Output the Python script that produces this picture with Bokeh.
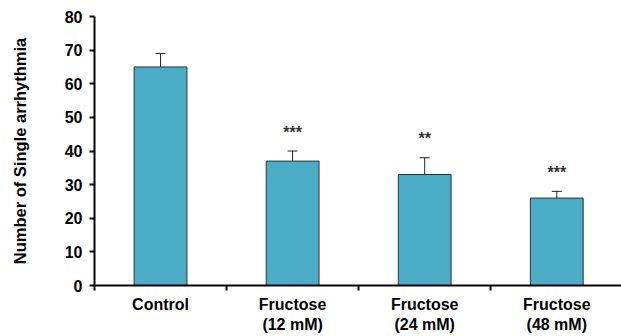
from bokeh.plotting import figure
from bokeh.models import Range1d, FixedTicker, ColumnDataSource
from bokeh.core.properties import value
from bokeh.embed import file_html
from bokeh.resources import INLINE

categories = ["Control", "Fructose\n(12 mM)", "Fructose\n(24 mM)", "Fructose\n(48 mM)"]
means = [65, 37, 33, 26]
errors = [4, 3, 5, 2]
stars = ["", "***", "**", "***"]
y_ticks = [0, 10, 20, 30, 40, 50, 60, 70, 80]

xs = [i + 0.5 for i in range(len(categories))]
tops = [m + e for m, e in zip(means, errors)]
src = ColumnDataSource(dict(x=xs, m=means, top=tops, s=stars))

p = figure(width=621, height=336, output_backend="svg", toolbar_location=None,
           x_range=Range1d(0, 3.99), y_range=Range1d(0, 80),
           min_border_left=94, min_border_right=0, min_border_top=16, min_border_bottom=51)
p.outline_line_color = None
p.xgrid.visible = False
p.ygrid.visible = False

p.vbar(x="x", top="m", bottom=0, width=0.4, source=src,
       fill_color="#4BACC6", line_color="#333333", line_width=1)
p.segment(x0="x", y0="m", x1="x", y1="top", source=src, line_color="#222222", line_width=1)
p.scatter(x="x", y="top", source=src, marker="dash", size=10, line_color="#222222", line_width=1)
p.text(x="x", y="top", text="s", source=src, text_align="center", text_baseline="middle",
       y_offset=-19, text_font=value("Liberation Sans"), text_font_size="16px",
       text_color="#333333", text_font_style="bold")

# x axis
p.xaxis.ticker = FixedTicker(ticks=xs, minor_ticks=[0, 1, 2, 3, 4])
p.xaxis.major_label_overrides = {x: c for x, c in zip(xs, categories)}
p.xaxis.major_tick_line_color = None
p.xaxis.major_tick_out = 5
p.xaxis.minor_tick_out = 5
p.xaxis.minor_tick_in = 0
p.xaxis.minor_tick_line_color = "black"
p.xaxis.minor_tick_line_width = 2
p.xaxis.axis_line_width = 2
p.xaxis.axis_line_color = "black"
p.xaxis.major_label_text_font = "Liberation Sans"
p.xaxis.major_label_text_font_style = "bold"
p.xaxis.major_label_text_font_size = "16px"
p.xaxis.major_label_text_color = "black"
p.xaxis.major_label_text_line_height = 1.2

# y axis
p.yaxis.ticker = FixedTicker(ticks=y_ticks)
p.yaxis.minor_tick_line_color = None
p.yaxis.major_tick_in = 0
p.yaxis.major_tick_out = 5
p.yaxis.major_tick_line_width = 2
p.yaxis.major_tick_line_color = "black"
p.yaxis.axis_line_width = 2
p.yaxis.axis_line_color = "black"
p.yaxis.major_label_text_font = "Liberation Sans"
p.yaxis.major_label_text_font_style = "bold"
p.yaxis.major_label_text_font_size = "16px"
p.yaxis.major_label_text_color = "black"
p.yaxis.major_label_standoff = 7
p.yaxis.axis_label = "Number of Single arrhythmia"
p.yaxis.axis_label_text_font = "Liberation Sans"
p.yaxis.axis_label_text_font_style = "bold"
p.yaxis.axis_label_text_font_size = "16.5px"
p.yaxis.axis_label_text_color = "black"
p.yaxis.axis_label_standoff = 33

open("out.html", "w").write(file_html(p, INLINE))
